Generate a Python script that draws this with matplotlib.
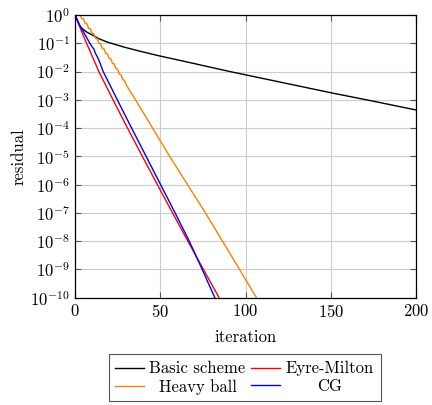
import matplotlib
matplotlib.use("Agg")
import matplotlib.pyplot as plt
from matplotlib.ticker import LogLocator, LogFormatterMathtext, NullLocator

plt.rcParams['font.family'] = 'serif'
plt.rcParams['font.serif'] = ['cmr10', 'DejaVu Serif']
plt.rcParams['mathtext.fontset'] = 'cm'
plt.rcParams['axes.formatter.use_mathtext'] = True
plt.rcParams['axes.unicode_minus'] = False

# values (iteration, residual)
basic_it = [0, 1, 2, 3, 4.6, 7, 10, 14, 19, 29, 38, 49, 70, 90, 120, 150, 175, 200]
basic_res = [1e0, 10**-0.13, 10**-0.27, 10**-0.4, 10**-0.5, 10**-0.61, 10**-0.7,
             10**-0.84, 10**-0.96, 10**-1.14, 10**-1.28, 10**-1.44, 10**-1.72,
             10**-1.99, 10**-2.37, 10**-2.75, 10**-3.05, 10**-3.36]

eyre_it = [0, 1, 2, 4, 6.8, 14, 22.3, 30.8, 39.5, 48.3, 57.2, 66.2, 75.3, 84.5, 88]
eyre_res = [1e0, 10**-0.14, 10**-0.3, 10**-0.6, 1e-1, 1e-2, 1e-3, 1e-4, 1e-5,
            1e-6, 1e-7, 1e-8, 1e-9, 1e-10, 10**-10.4]

heavy_it = list(range(0, 31)) + [35.5, 45.5, 55.5, 66, 76.5, 86.5, 96.5, 106.4, 110]
heavy_res = [1e0, 10**0.15, 10**0.08, 10**0.02, 10**-0.13, 10**-0.13, 10**-0.30,
             10**-0.31, 10**-0.47, 10**-0.48, 10**-0.65, 10**-0.66, 10**-0.82,
             10**-0.83, 10**-1.0, 10**-1.01, 10**-1.18, 10**-1.19, 10**-1.36,
             10**-1.37, 10**-1.54, 10**-1.55, 10**-1.72, 10**-1.73, 10**-1.90,
             10**-1.91, 10**-2.09, 10**-2.11, 10**-2.29, 10**-2.31, 10**-2.47,
             1e-3, 1e-4, 1e-5, 1e-6, 1e-7, 1e-8, 1e-9, 1e-10, 10**-10.35]

cg_it = [0, 1, 2, 3, 5, 8.7, 10, 11, 12, 13, 14, 15, 16.5, 20.5, 24.8, 33.2, 41.7,
         50.2, 58.7, 67, 74.6, 82, 85]
cg_res = [1e0, 10**-0.13, 10**-0.27, 10**-0.4, 10**-0.6, 1e-1, 10**-1.12,
          10**-1.2, 10**-1.36, 10**-1.47, 10**-1.6, 10**-1.75, 1e-2, 10**-2.48,
          1e-3, 1e-4, 1e-5, 1e-6, 1e-7, 1e-8, 1e-9, 1e-10, 10**-10.4]

fig = plt.figure(figsize=(4.32, 4.05), dpi=100)
ax = fig.add_axes([0.1736, 0.265, 0.7894, 0.698])

lb, = ax.plot(basic_it, basic_res, color='black', lw=1.0, label='Basic scheme')
le, = ax.plot(eyre_it, eyre_res, color='#ff0000', lw=1.0, label='Eyre-Milton')
lh, = ax.plot(heavy_it, heavy_res, color='#ff8000', lw=1.0, label='Heavy ball')
lc, = ax.plot(cg_it, cg_res, color='#0000ff', lw=1.0, label='CG')

ax.set_yscale('log')
ax.set_xlim(0, 200)
ax.set_ylim(1e-10, 1e0)
ax.set_xticks([0, 50, 100, 150, 200])
ax.yaxis.set_major_locator(LogLocator(base=10, numticks=20))
ax.yaxis.set_major_formatter(LogFormatterMathtext())
ax.yaxis.set_minor_locator(NullLocator())
ax.grid(True, color='#cccccc', lw=0.8)
ax.set_axisbelow(True)
ax.tick_params(direction='in', length=4, width=0.8, top=True, right=True,
               labelsize=12, color='#555555')
for s in ax.spines.values():
    s.set_linewidth(0.9)

ax.set_xlabel('iteration', fontsize=12, labelpad=7)
ax.set_ylabel('residual', fontsize=12, labelpad=3)

leg = fig.legend([lb, lh, le, lc],
                 ['Basic scheme', 'Heavy ball', 'Eyre-Milton', 'CG'],
                 ncol=2, loc='center', bbox_to_anchor=(0.566, 0.067),
                 fontsize=12, frameon=True, fancybox=False, edgecolor='#555555',
                 framealpha=1, handlelength=1.7, handletextpad=0.35,
                 columnspacing=0.35, borderpad=0.4, labelspacing=0.15)
leg.get_frame().set_linewidth(0.8)

# centre the legend texts inside their columns, like pgfplots does
fig.canvas.draw()
r = fig.canvas.get_renderer()
texts = leg.get_texts()
for col in (texts[:2], texts[2:]):
    widths = [t.get_window_extent(r).width for t in col]
    wmax = max(widths)
    for t, w in zip(col, widths):
        t.set_x((wmax - w) / 2)

fig.savefig('out.png', dpi=100)
